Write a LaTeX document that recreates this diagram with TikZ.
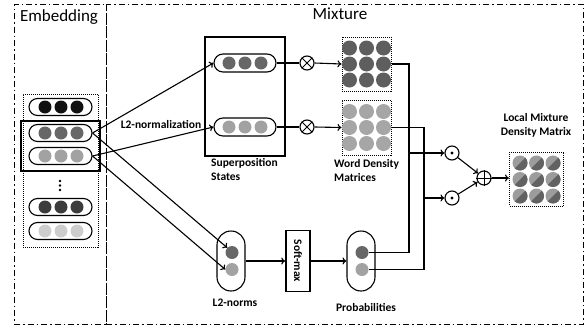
\documentclass[tikz,border=0pt]{standalone}
\usepackage{fontspec}
\setmainfont{Carlito}
\usetikzlibrary{calc,arrows.meta}

\definecolor{cblack}{HTML}{111111}
\definecolor{cmid}{HTML}{676767}
\definecolor{clight}{HTML}{A2A2A2}
\definecolor{cdark}{HTML}{3C3C3C}
\definecolor{cpale}{HTML}{CDCDCD}
\definecolor{cmat}{HTML}{5E5E5E}
\definecolor{cmatl}{HTML}{A6A6A6}
\definecolor{chalfl}{HTML}{9C9C9C}
\definecolor{chalfd}{HTML}{626262}

\tikzset{
  hpill/.style={draw, line width=1.1pt, rounded corners=8.5pt, minimum width=63pt, minimum height=17pt, inner sep=0pt},
  vpill/.style={draw, line width=1.1pt, rounded corners=14pt, minimum width=28pt, minimum height=60pt, inner sep=0pt},
  ball/.style={circle, minimum size=13pt, inner sep=0pt},
  mball/.style={circle, minimum size=15pt, inner sep=0pt},
  minidot/.style={circle, fill=black, minimum size=2.6pt, inner sep=0pt},
  dotbox/.style={draw, densely dotted, line width=1pt, inner sep=0pt},
  thickbox/.style={draw, line width=1.6pt, inner sep=0pt},
  opcirc/.style={circle, draw, line width=1.1pt, minimum size=14pt, inner sep=0pt},
  conn/.style={line width=1.1pt},
  arr/.style={-{To[length=4pt,width=7pt]}, line width=1.1pt},
  lbl/.style={font=\fontsize{11.5}{14}\selectfont\bfseries, align=left, inner sep=0pt},
  paneltitle/.style={font=\fontsize{17}{20}\selectfont, inner sep=0pt},
  panel/.style={draw, line width=1pt, dash pattern=on 6pt off 3pt on 1.5pt off 3pt, inner sep=0pt},
}

\begin{document}
\begin{tikzpicture}[x=1pt, y=-1pt]
  \useasboundingbox (0,0) rectangle (587,327);

  \node[panel, minimum width=92pt, minimum height=320pt] (emb) at (60,164) {};
  \node[panel, minimum width=477pt, minimum height=320pt] (mix) at (344.5,164) {};
  \node[paneltitle] (embtitle) at (59,17) {Embedding};
  \node[paneltitle] (mixtitle) at (340,14) {Mixture};

  \node[dotbox, minimum width=75pt, minimum height=153pt] (embbox) at (60.5,170.5) {};
  \foreach \n/\y/\c in {1/107/cblack, 2/133/cmid, 3/156/clight, 4/207/cdark, 5/231/cpale} {
    \node[hpill] (e\n) at (60.5,\y) {};
    \foreach \i/\x in {1/45, 2/61, 3/77}
      \node[ball, fill=\c] (e\n-\i) at (\x,\y) {};
  }
  \foreach \k/\y in {1/181, 2/185.5, 3/190}
    \node[minidot] (vd\k) at (60,\y) {};
  \node[thickbox, minimum width=79pt, minimum height=50pt] (sel) at (60.5,146) {};

  \node[thickbox, minimum width=80pt, minimum height=119pt] (sup) at (245,96.5) {};
  \foreach \n/\y/\c in {1/63/cmid, 2/127/clight} {
    \node[hpill, minimum width=62pt, minimum height=18pt, rounded corners=9pt] (s\n) at (245,\y) {};
    \foreach \i/\x in {1/229, 2/245, 3/261}
      \node[ball, fill=\c] (s\n-\i) at (\x,\y) {};
  }
  \node[lbl, anchor=north west] (suplbl) at (211,158) {Superposition\\States};
  \node[lbl] (l2lbl) at (161,124) {L2-normalization};

  \draw[arr] (e2.east) -- (s1.west);
  \draw[arr] (e3.east) -- (s2.west);

  \node[vpill] (l2) at (231,261) {};
  \node[ball, fill=cmid] (n1) at (232,252.5) {};
  \node[ball, fill=clight] (n2) at (232,269.5) {};
  \node[lbl] (l2nlbl) at (235,303) {L2-norms};
  \draw[arr] (e2.east) -- (n1.north west);
  \draw[arr] (e3.east) -- (n2.west);

  \node[thickbox, minimum width=24pt, minimum height=61pt] (sm) at (298,261) {};
  \node[lbl, rotate=-90] (smlbl) at (298,261) {Soft-max};

  \node[vpill] (pr) at (361,261) {};
  \node[ball, fill=cmid] (p1) at (362,252.5) {};
  \node[ball, fill=clight] (p2) at (362,269.5) {};
  \node[lbl] (prlbl) at (366,307) {Probabilities};
  \draw[arr] (l2.east) -- (sm.west);
  \draw[arr] (sm.east) -- (pr.west);

  \foreach \n/\y in {1/63, 2/127} {
    \node[opcirc] (ot\n) at (307,\y) {};
    \draw[line width=0.9pt] (ot\n.north west) -- (ot\n.south east)
                            (ot\n.north east) -- (ot\n.south west);
  }

  \node[dotbox, minimum width=49pt, minimum height=54pt] (m1) at (366.5,64) {};
  \node[dotbox, minimum width=49pt, minimum height=55pt] (m2) at (366.5,127.5) {};
  \foreach \r/\dy in {1/-16, 2/0, 3/16}
    \foreach \c/\x in {1/349.5, 2/366.5, 3/383.5} {
      \node[mball, fill=cmat] (m1-\r\c) at (\x,64+\dy) {};
      \node[mball, fill=cmatl] (m2-\r\c) at (\x,127.5+\dy) {};
    }
  \node[lbl, anchor=north west] (wdlbl) at (334,159) {Word Density\\Matrices};

  \draw[conn] (s1.east) -- (ot1.west);
  \draw[conn] (s2.east) -- (ot2.west);
  \draw[arr] (ot1.east) -- (m1.west);
  \draw[arr] (ot2.east) -- (m2.west);

  \node[opcirc] (od1) at (452,153) {};
  \node[opcirc] (od2) at (452,198) {};
  \fill (od1) circle [radius=1.7pt];
  \fill (od2) circle [radius=1.7pt];
  \node[opcirc] (op) at (484,178) {};
  \draw[line width=0.9pt] (op.north) -- (op.south) (op.west) -- (op.east);

  \coordinate (k1) at (409,153);
  \coordinate (k2) at (424,198);
  \draw[conn] (m1.east) -| (k1) |- (p1.east);
  \draw[conn] (m2.east) -| (k2) |- (p2.east);
  \draw[arr] (k1) -- (od1.west);
  \draw[arr] (k2) -- (od2.west);
  \draw[arr] (od1) -- (op);
  \draw[arr] (od2) -- (op);

  \node[dotbox, minimum width=54pt, minimum height=54pt] (lm) at (536.5,179) {};
  \foreach \r/\y in {1/163, 2/179.5, 3/196}
    \foreach \c/\x in {1/520, 2/536.5, 3/553} {
      \node[mball, fill=chalfl] (lm-\r\c) at (\x,\y) {};
      \begin{scope}
        \clip (lm-\r\c) circle [radius=7.5pt];
        \fill[chalfd] ($(lm-\r\c)+(-11,11)$) -- ++(22,-22) -- ++(0,22) -- cycle;
      \end{scope}
    }
  \node[lbl, align=center] (lmlbl) at (536,125) {Local Mixture\\Density Matrix};
  \draw[arr] (op.east) -- (op.east -| lm.west);
\end{tikzpicture}
\end{document}
